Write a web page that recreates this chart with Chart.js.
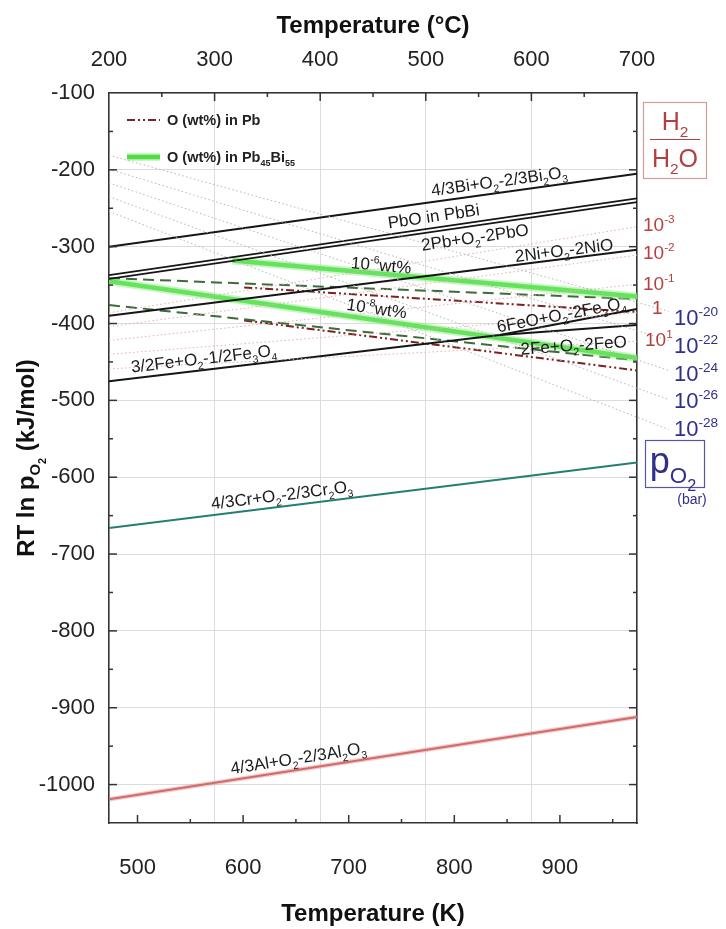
<!DOCTYPE html>
<html>
<head>
<meta charset="utf-8">
<script src="https://cdn.jsdelivr.net/npm/chart.js@4.4.1/dist/chart.umd.min.js"></script>
<style>
  html, body { margin: 0; padding: 0; background: #fff; }
  #wrap { width: 726px; height: 929px; }
</style>
</head>
<body>
<div id="wrap"><canvas id="chart"></canvas></div>
<script>
const FONT = '"Liberation Sans", Arial, sans-serif';

// axes
const kTicks = [500, 600, 700, 800, 900];
const cTicks = [200, 300, 400, 500, 600, 700];
const yTicks = [-1000, -900, -800, -700, -600, -500, -400, -300, -200, -100];

// oxide formation lines, [T (K), RT ln pO2 (kJ/mol)]
const bi2o3 = [[473, -300], [973, -205]];
const pboInPbBi = [[473, -337], [973, -237]];
const pbo = [[473, -342], [973, -242]];
const nio = [[473, -390], [973, -304]];
const fe3o4 = [[473, -475], [843, -415]];
const feoToFe3o4 = [[843, -415], [973, -381]];
const feo = [[843, -415], [973, -402]];
const cr2o3 = [[473, -666], [973, -581]];
const al2o3 = [[473, -1019], [973, -912]];

// dissolved oxygen lines
const lbe6 = [[590, -318], [973, -365]];
const lbe8 = [[473, -345], [973, -445]];
const dash6 = [[473, -341], [973, -368]];
const dash8 = [[473, -376], [973, -448]];
const pb6 = [[601, -353], [973, -385]];
const pb8 = [[601, -396], [973, -461]];

// H2/H2O ratio lines (10^-3 ... 10^1)
const ratioLines = [
  [[473, -386], [973, -274]],
  [[473, -404], [973, -311]],
  [[473, -422], [973, -349]],
  [[473, -440], [973, -386]],
  [[473, -459], [973, -423]]
];
// pO2 isobars (10^-20 ... 10^-28 bar), running out to their labels
const pO2Lines = [
  [[473, -181], [1003, -384]],
  [[473, -199], [1003, -422]],
  [[473, -217], [1003, -461]],
  [[473, -235], [1003, -499]],
  [[473, -254], [1003, -538]]
];

const ratioLabels = ['10^{-3}', '10^{-2}', '10^{-1}', '1', '10^{1}'];
const pO2Labels = ['10^{-20}', '10^{-22}', '10^{-24}', '10^{-26}', '10^{-28}'];

// text along the lines: [text, line, T, pixel offset (neg = above)]
const lineLabels = [
  ['4/3Bi+O_{2}-2/3Bi_{2}O_{3}', bi2o3, 844, -12],
  ['PbO in PbBi', pboInPbBi, 782, -12],
  ['2Pb+O_{2}-2PbO', pbo, 818, 11],
  ['2Ni+O_{2}-2NiO', nio, 905, -9],
  ['10^{-6}wt%', lbe6, 730, -9],
  ['10^{-8}wt%', lbe8, 725, -12],
  ['6FeO+O_{2}-2Fe_{3}O_{4}', feoToFe3o4, 903, -9],
  ['2Fe+O_{2}-2FeO', feo, 912, 15],
  ['3/2Fe+O_{2}-1/2Fe_{3}O_{4}', fe3o4, 564, -12],
  ['4/3Cr+O_{2}-2/3Cr_{2}O_{3}', cr2o3, 638, -12],
  ['4/3Al+O_{2}-2/3Al_{2}O_{3}', al2o3, 654, -12]
];

function parseRich(str) {
  const out = [];
  let i = 0, buf = '';
  while (i < str.length) {
    const c = str[i];
    if ((c === '_' || c === '^' || c === '~') && str[i + 1] === '{') {
      if (buf) { out.push({ t: buf, s: 0 }); buf = ''; }
      const end = str.indexOf('}', i);
      out.push({ t: str.slice(i + 2, end), s: c === '_' ? -1 : c === '^' ? 1 : -2 });
      i = end + 1;
    } else { buf += c; i++; }
  }
  if (buf) out.push({ t: buf, s: 0 });
  return out;
}

function drawRich(ctx, str, x, y, o = {}) {
  const size = o.size || 13, weight = o.weight || 'normal';
  const parts = parseRich(str);
  const sz = p => p.s === 0 ? size : p.s === -2 ? size * 0.45 : size * 0.62;
  const off = p => p.s === -1 ? size * 0.28 : p.s === 1 ? -size * 0.42 : p.s === -2 ? size * 0.5 : 0;
  let w = 0;
  parts.forEach(p => { ctx.font = `${weight} ${sz(p)}px ${FONT}`; p.w = ctx.measureText(p.t).width; w += p.w; });
  ctx.save();
  ctx.translate(x, y);
  ctx.rotate(o.angle || 0);
  ctx.fillStyle = o.color || '#111';
  ctx.textBaseline = 'alphabetic';
  let cx = o.align === 'left' ? 0 : o.align === 'right' ? -w : -w / 2;
  parts.forEach(p => {
    ctx.font = `${weight} ${sz(p)}px ${FONT}`;
    ctx.fillText(p.t, cx, off(p) + size * 0.36);
    cx += p.w;
  });
  ctx.restore();
  return w;
}

const xy = pts => pts.map(([x, y]) => ({ x, y }));
const line = (pts, color, width, dash) => ({ data: xy(pts), borderColor: color, borderWidth: width, borderDash: dash || [] });

const datasets = [
  ...pO2Lines.map(l => ({ ...line(l, '#b4b4b4', 1, [1.5, 2.5]), clip: { left: 0, top: 0, right: 40, bottom: 0 } })),
  ...ratioLines.map(l => line(l, '#e0b0b0', 1, [1.5, 2.5])),
  line(bi2o3, '#151515', 2),
  line(pboInPbBi, '#151515', 1.8),
  line(pbo, '#151515', 1.8),
  line(nio, '#151515', 2),
  line(fe3o4, '#151515', 2),
  line(feoToFe3o4, '#151515', 2),
  line(feo, '#151515', 2),
  line(cr2o3, '#237f70', 2),
  line(al2o3, 'rgba(225,140,140,0.45)', 4.5),
  line(al2o3, '#c64d4d', 2),
  line(lbe6, 'rgba(130,235,120,0.45)', 8),
  line(lbe8, 'rgba(130,235,120,0.45)', 8),
  line(lbe6, '#4fdc45', 4.5),
  line(lbe8, '#4fdc45', 4.5),
  line(dash6, '#3d6b3a', 2, [11, 6]),
  line(dash8, '#3d6b3a', 2, [11, 6]),
  line(pb6, '#7d2020', 2, [8, 3, 2, 3, 2, 3]),
  line(pb8, '#7d2020', 2, [8, 3, 2, 3, 2, 3])
];

const frameTicks = {
  id: 'frameTicks',
  afterDraw(chart) {
    const { ctx, chartArea: a, scales: { x, x2, y } } = chart;
    ctx.save();
    ctx.strokeStyle = '#333';
    ctx.lineWidth = 1.5;
    const seg = (x1, y1, x2_, y2_) => { ctx.beginPath(); ctx.moveTo(x1, y1); ctx.lineTo(x2_, y2_); ctx.stroke(); };
    for (let k = 500; k < 973; k += 50) {
      const px = x.getPixelForValue(k), len = k % 100 ? 4 : 8;
      seg(px, a.bottom, px, a.bottom - len);
    }
    for (let c = 250; c < 700; c += 50) {
      const px = x2.getPixelForValue(c), len = c % 100 ? 4 : 8;
      seg(px, a.top, px, a.top + len);
    }
    for (let v = -1000; v < -100; v += 50) {
      const py = y.getPixelForValue(v), len = v % 100 ? 4 : 8;
      seg(a.left, py, a.left + len, py);
      seg(a.right, py, a.right - len, py);
    }
    ctx.restore();
  }
};

const annotations = {
  id: 'annotations',
  afterDatasetsDraw(chart) {
    const { ctx, chartArea: a, scales: { x, y } } = chart;
    // labels along the lines
    lineLabels.forEach(([text, pts, t, dy]) => {
      const [p0, p1] = pts;
      const x0 = x.getPixelForValue(p0[0]), y0 = y.getPixelForValue(p0[1]);
      const x1 = x.getPixelForValue(p1[0]), y1 = y.getPixelForValue(p1[1]);
      const ang = Math.atan2(y1 - y0, x1 - x0);
      const px = x.getPixelForValue(t);
      const py = y0 + (y1 - y0) * (px - x0) / (x1 - x0);
      drawRich(ctx, text, px - Math.sin(ang) * dy, py + Math.cos(ang) * dy, { size: 17, angle: ang, color: '#1a1a1a' });
    });

    // legend
    ctx.save();
    ctx.lineWidth = 2;
    ctx.strokeStyle = '#7d2020';
    ctx.setLineDash([8, 3, 2, 3, 2, 3]);
    ctx.beginPath(); ctx.moveTo(a.left + 18, 120); ctx.lineTo(a.left + 51, 120); ctx.stroke();
    ctx.setLineDash([]);
    ctx.lineWidth = 8;
    ctx.strokeStyle = 'rgba(130,235,120,0.45)';
    ctx.beginPath(); ctx.moveTo(a.left + 18, 157); ctx.lineTo(a.left + 51, 157); ctx.stroke();
    ctx.lineWidth = 4.5;
    ctx.strokeStyle = '#4fdc45';
    ctx.beginPath(); ctx.moveTo(a.left + 18, 157); ctx.lineTo(a.left + 51, 157); ctx.stroke();
    ctx.restore();
    drawRich(ctx, 'O (wt%) in Pb', a.left + 58, 120, { size: 14.5, weight: 'bold', align: 'left', color: '#222' });
    drawRich(ctx, 'O (wt%) in Pb_{45}Bi_{55}', a.left + 58, 157, { size: 14.5, weight: 'bold', align: 'left', color: '#222' });

    // right-hand scales
    const red = '#b34040', blue = '#2f2f8c';
    ctx.save();
    ctx.lineWidth = 1.2;
    ctx.strokeStyle = '#d39a9a';
    ctx.strokeRect(643.5, 102.5, 63, 76);
    ctx.strokeStyle = red;
    ctx.beginPath(); ctx.moveTo(650, 139.5); ctx.lineTo(700, 139.5); ctx.stroke();
    ctx.strokeStyle = '#5656a8';
    ctx.strokeRect(645.5, 440.5, 59, 47);
    ctx.restore();
    drawRich(ctx, 'H_{2}', 675, 121, { size: 25, color: red });
    drawRich(ctx, 'H_{2}O', 675, 158, { size: 25, color: red });

    const ratioPos = [[643, 224], [643, 252], [643, 283], [652, 307], [645, 339]];
    ratioLabels.forEach((s, i) => drawRich(ctx, s, ratioPos[i][0], ratioPos[i][1], { size: 19, color: red, align: 'left' }));
    const pO2Pos = [[674, 317], [674, 345], [674, 373], [674, 400], [674, 428]];
    pO2Labels.forEach((s, i) => drawRich(ctx, s, pO2Pos[i][0], pO2Pos[i][1], { size: 22, color: blue, align: 'left' }));

    drawRich(ctx, 'p_{O}~{2}', 673, 460, { size: 36, color: blue });
    drawRich(ctx, '(bar)', 692, 499, { size: 14, color: blue });

    // y-axis title
    drawRich(ctx, 'RT ln p_{O}~{2} (kJ/mol)', 25, (a.top + a.bottom) / 2, { size: 24, weight: 'bold', angle: -Math.PI / 2, color: '#111' });
  }
};

const tickFont = { family: FONT, size: 22 };
const titleFont = { family: FONT, size: 24, weight: 'bold' };

new Chart(document.getElementById('chart'), {
  type: 'scatter',
  data: { datasets },
  options: {
    responsive: true,
    maintainAspectRatio: false,
    animation: false,
    showLine: true,
    elements: { point: { radius: 0 }, line: { tension: 0 } },
    layout: { padding: { left: 0, right: 89, top: 0, bottom: 0 } },
    plugins: { legend: { display: false }, tooltip: { enabled: false } },
    scales: {
      x: {
        type: 'linear', position: 'bottom', min: 473, max: 973,
        afterBuildTicks: s => { s.ticks = kTicks.map(v => ({ value: v })); },
        afterFit: s => { s.height = 106; },
        grid: { display: false, drawTicks: false },
        border: { color: '#333', width: 1.5 },
        ticks: { padding: 32, color: '#222', font: tickFont, callback: v => v },
        title: { display: true, text: 'Temperature (K)', color: '#111', padding: { top: 0, bottom: 0 }, font: titleFont }
      },
      x2: {
        type: 'linear', position: 'top', min: 200, max: 700,
        afterBuildTicks: s => { s.ticks = cTicks.map(v => ({ value: v })); },
        afterFit: s => { s.height = 93; },
        grid: { color: '#dcdcdc', lineWidth: 1, drawTicks: false },
        border: { color: '#333', width: 1.5 },
        ticks: { padding: 20, color: '#222', font: tickFont, callback: v => v },
        title: { display: true, text: 'Temperature (°C)', color: '#111', padding: { top: 12, bottom: 0 }, font: titleFont }
      },
      y: {
        type: 'linear', position: 'left', min: -1050, max: -100,
        afterBuildTicks: s => { s.ticks = yTicks.map(v => ({ value: v })); },
        afterFit: s => { s.width = 109; },
        grid: { color: '#dcdcdc', lineWidth: 1, drawTicks: false },
        border: { color: '#333', width: 1.5 },
        ticks: { padding: 14, color: '#222', font: tickFont, callback: v => v }
      },
      y2: {
        type: 'linear', position: 'right', min: -1050, max: -100,
        afterFit: s => { s.width = 0; },
        grid: { drawOnChartArea: false, drawTicks: false },
        border: { color: '#333', width: 1.5 },
        ticks: { display: false }
      }
    }
  },
  plugins: [frameTicks, annotations]
});
</script>
</body>
</html>
